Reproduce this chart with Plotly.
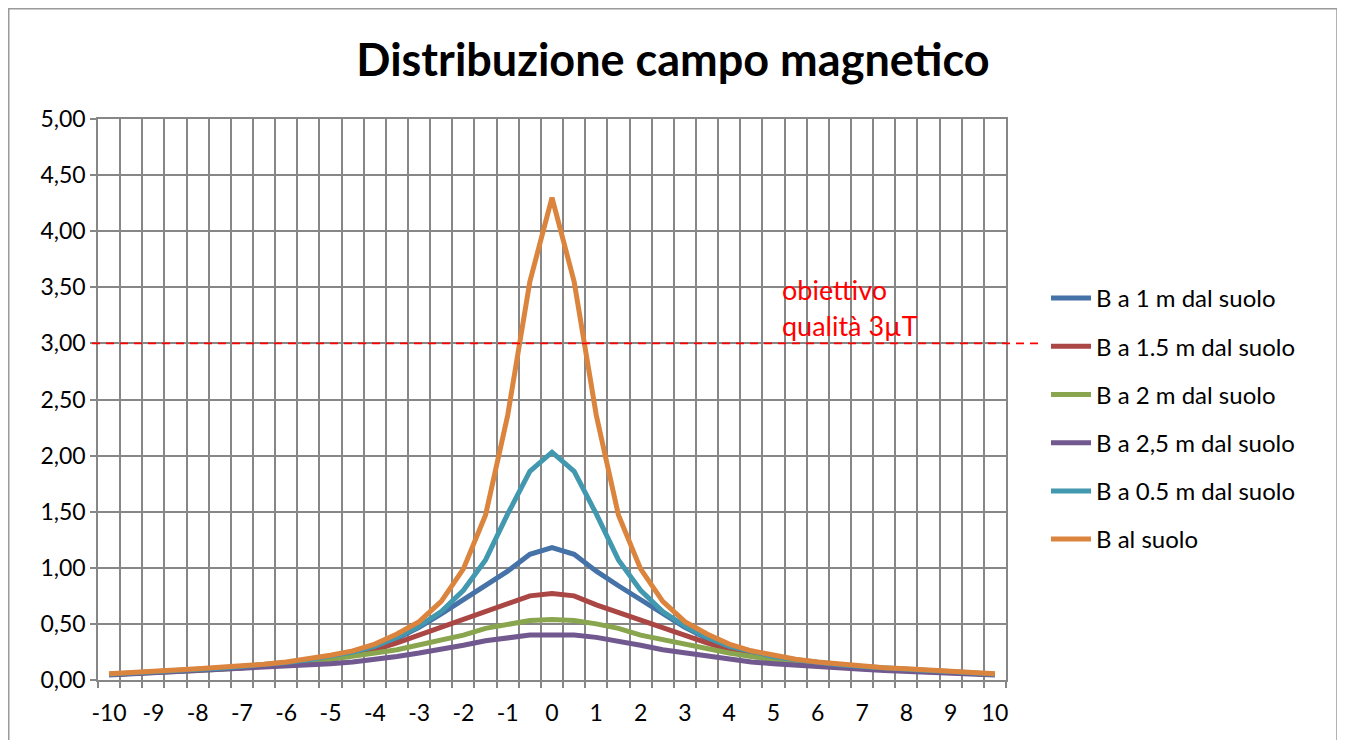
import plotly.graph_objects as go

x_pos = [-10, -9.5, -9, -8.5, -8, -7.5, -7, -6.5, -6, -5.5, -5, -4.5, -4, -3.5, -3, -2.5, -2, -1.5, -1, -0.5,
         0, 0.5, 1, 1.5, 2, 2.5, 3, 3.5, 4, 4.5, 5, 5.5, 6, 6.5, 7, 7.5, 8, 8.5, 9, 9.5, 10]

b_1m = [0.05, 0.063, 0.072, 0.08, 0.09, 0.10, 0.115, 0.13, 0.15, 0.17, 0.20, 0.24, 0.29, 0.37, 0.47, 0.59, 0.72, 0.84, 0.97, 1.12,
        1.18, 1.12, 0.97, 0.84, 0.72, 0.59, 0.47, 0.37, 0.29, 0.24, 0.20, 0.17, 0.15, 0.13, 0.115, 0.10, 0.09, 0.08, 0.072, 0.063, 0.05]
b_15m = [0.05, 0.062, 0.07, 0.078, 0.088, 0.10, 0.11, 0.125, 0.145, 0.165, 0.19, 0.23, 0.27, 0.33, 0.40, 0.46, 0.53, 0.60, 0.67, 0.75,
         0.77, 0.75, 0.67, 0.60, 0.53, 0.46, 0.40, 0.33, 0.27, 0.23, 0.19, 0.165, 0.145, 0.125, 0.11, 0.10, 0.088, 0.078, 0.07, 0.062, 0.05]
b_2m = [0.048, 0.06, 0.067, 0.075, 0.085, 0.095, 0.105, 0.12, 0.135, 0.155, 0.18, 0.21, 0.24, 0.27, 0.31, 0.36, 0.40, 0.46, 0.50, 0.53,
        0.54, 0.53, 0.50, 0.46, 0.40, 0.36, 0.31, 0.27, 0.24, 0.21, 0.18, 0.155, 0.135, 0.12, 0.105, 0.095, 0.085, 0.075, 0.067, 0.06, 0.048]
b_25m = [0.045, 0.055, 0.062, 0.07, 0.077, 0.085, 0.095, 0.105, 0.115, 0.13, 0.145, 0.16, 0.18, 0.21, 0.24, 0.27, 0.31, 0.35, 0.38, 0.40,
         0.40, 0.40, 0.38, 0.35, 0.31, 0.27, 0.24, 0.21, 0.18, 0.16, 0.145, 0.13, 0.115, 0.105, 0.095, 0.085, 0.077, 0.07, 0.062, 0.055, 0.045]
b_05m = [0.052, 0.065, 0.075, 0.085, 0.095, 0.105, 0.12, 0.135, 0.155, 0.18, 0.21, 0.25, 0.30, 0.38, 0.48, 0.61, 0.80, 1.07, 1.48, 1.86,
         2.03, 1.86, 1.48, 1.07, 0.80, 0.61, 0.48, 0.38, 0.30, 0.25, 0.21, 0.18, 0.155, 0.135, 0.12, 0.105, 0.095, 0.085, 0.075, 0.065, 0.052]
b_suolo = [0.055, 0.07, 0.08, 0.09, 0.10, 0.11, 0.125, 0.14, 0.16, 0.185, 0.22, 0.26, 0.32, 0.41, 0.52, 0.70, 0.99, 1.47, 2.36, 3.55,
           4.30, 3.55, 2.36, 1.47, 0.99, 0.70, 0.52, 0.41, 0.32, 0.26, 0.22, 0.185, 0.16, 0.14, 0.125, 0.11, 0.10, 0.09, 0.08, 0.07, 0.055]

series_names = ["B a 1 m dal suolo", "B a 1.5 m dal suolo", "B a 2 m dal suolo",
                "B a 2,5 m dal suolo", "B a 0.5 m dal suolo", "B al suolo"]
series_values = [b_1m, b_15m, b_2m, b_25m, b_05m, b_suolo]
series_colors = ["#4572A7", "#AA4643", "#89A54E", "#71588F", "#4198AF", "#DB843D"]

x_tick_vals = [-10, -9, -8, -7, -6, -5, -4, -3, -2, -1, 0, 1, 2, 3, 4, 5, 6, 7, 8, 9, 10]
x_tick_text = ["-10", "-9", "-8", "-7", "-6", "-5", "-4", "-3", "-2", "-1", "0",
               "1", "2", "3", "4", "5", "6", "7", "8", "9", "10"]

threshold = 3.0
title_text = "Distribuzione campo magnetico"
note_lines = ["obiettivo", "qualità 3µT"]

FONT = "Lato, 'Open Sans', sans-serif"
GRID = "#878787"

# page has an 8px body margin; work in page pixels and convert
OFF = 8
W, H = 1345 - OFF, 740 - OFF
L, R, T, B = 98 - OFF, 1006 - OFF, 119 - OFF, 680 - OFF
pw, ph = R - L, B - T

def px_x(page_x):
    return (page_x - OFF - L) / pw

def px_y(page_y):
    return (B - (page_y - OFF)) / ph

fig = go.Figure()
for i, (name, vals, col) in enumerate(zip(series_names, series_values, series_colors)):
    fig.add_trace(go.Scatter(
        x=x_pos, y=vals, mode="lines", name=name,
        line=dict(color=col, width=5),
        legendgroup=f"g{i}",
    ))

# outer chart border
fig.add_shape(type="rect", xref="paper", yref="paper",
              x0=px_x(8.75), x1=px_x(1337), y0=px_y(760), y1=px_y(8.75),
              line=dict(color="#9a9a9a", width=1.5), fillcolor="rgba(0,0,0,0)", layer="below")

# threshold dashed line
fig.add_shape(type="line", xref="paper", yref="y",
              x0=px_x(92), x1=px_x(1040), y0=threshold, y1=threshold,
              line=dict(color="#ff0000", width=1.8, dash="8px,6px"), layer="above")

fig.add_annotation(xref="paper", yref="paper", x=px_x(780), y=px_y(289),
                   text=note_lines[0], showarrow=False, xanchor="left", yanchor="middle",
                   font=dict(family=FONT, size=27, color="#ff0000"))
fig.add_annotation(xref="paper", yref="paper", x=px_x(780), y=px_y(325),
                   text=note_lines[1], showarrow=False, xanchor="left", yanchor="middle",
                   font=dict(family=FONT, size=27, color="#ff0000"))

fig.update_layout(
    width=W, height=H,
    margin=dict(l=L, r=W - R, t=T, b=H - B, pad=0),
    paper_bgcolor="white", plot_bgcolor="white",
    separators=",.",
    title=dict(text=f"<b>{title_text}</b>", x=(673 - OFF) / W, xref="container", xanchor="center",
               y=1 - (60 - OFF) / H, yref="container", yanchor="middle",
               font=dict(family=FONT, size=45, color="black")),
    font=dict(family=FONT, size=24, color="black"),
    showlegend=True,
    legend=dict(x=px_x(1046), y=px_y(276), xanchor="left", yanchor="top",
                font=dict(family=FONT, size=24, color="black"),
                bgcolor="rgba(0,0,0,0)", tracegroupgap=14, traceorder="grouped",
                itemwidth=40),
)

fig.update_xaxes(
    range=[-10.25, 10.25], tickmode="array", tickvals=x_tick_vals, ticktext=x_tick_text,
    showgrid=False, zeroline=False,
    ticks="outside", ticklen=12, tickcolor="rgba(0,0,0,0)",
    tickfont=dict(family=FONT, size=23, color="black"),
    showline=True, linecolor=GRID, linewidth=1.5, mirror=True,
    minor=dict(tickmode="linear", tick0=-10.25, dtick=0.5, showgrid=True, gridcolor=GRID,
               gridwidth=1.5, ticks="outside", ticklen=6, tickcolor=GRID, tickwidth=1.5),
    fixedrange=True,
)
fig.update_yaxes(
    range=[0, 5], tickmode="linear", tick0=0, dtick=0.5, tickformat=".2f",
    showgrid=True, gridcolor=GRID, gridwidth=1.5, zeroline=False,
    ticks="outside", ticklen=6, tickcolor=GRID, tickwidth=1.5,
    tickfont=dict(family=FONT, size=23, color="black"),
    showline=True, linecolor=GRID, linewidth=1.5, mirror=True,
    fixedrange=True,
)

fig.write_html("out.html")
